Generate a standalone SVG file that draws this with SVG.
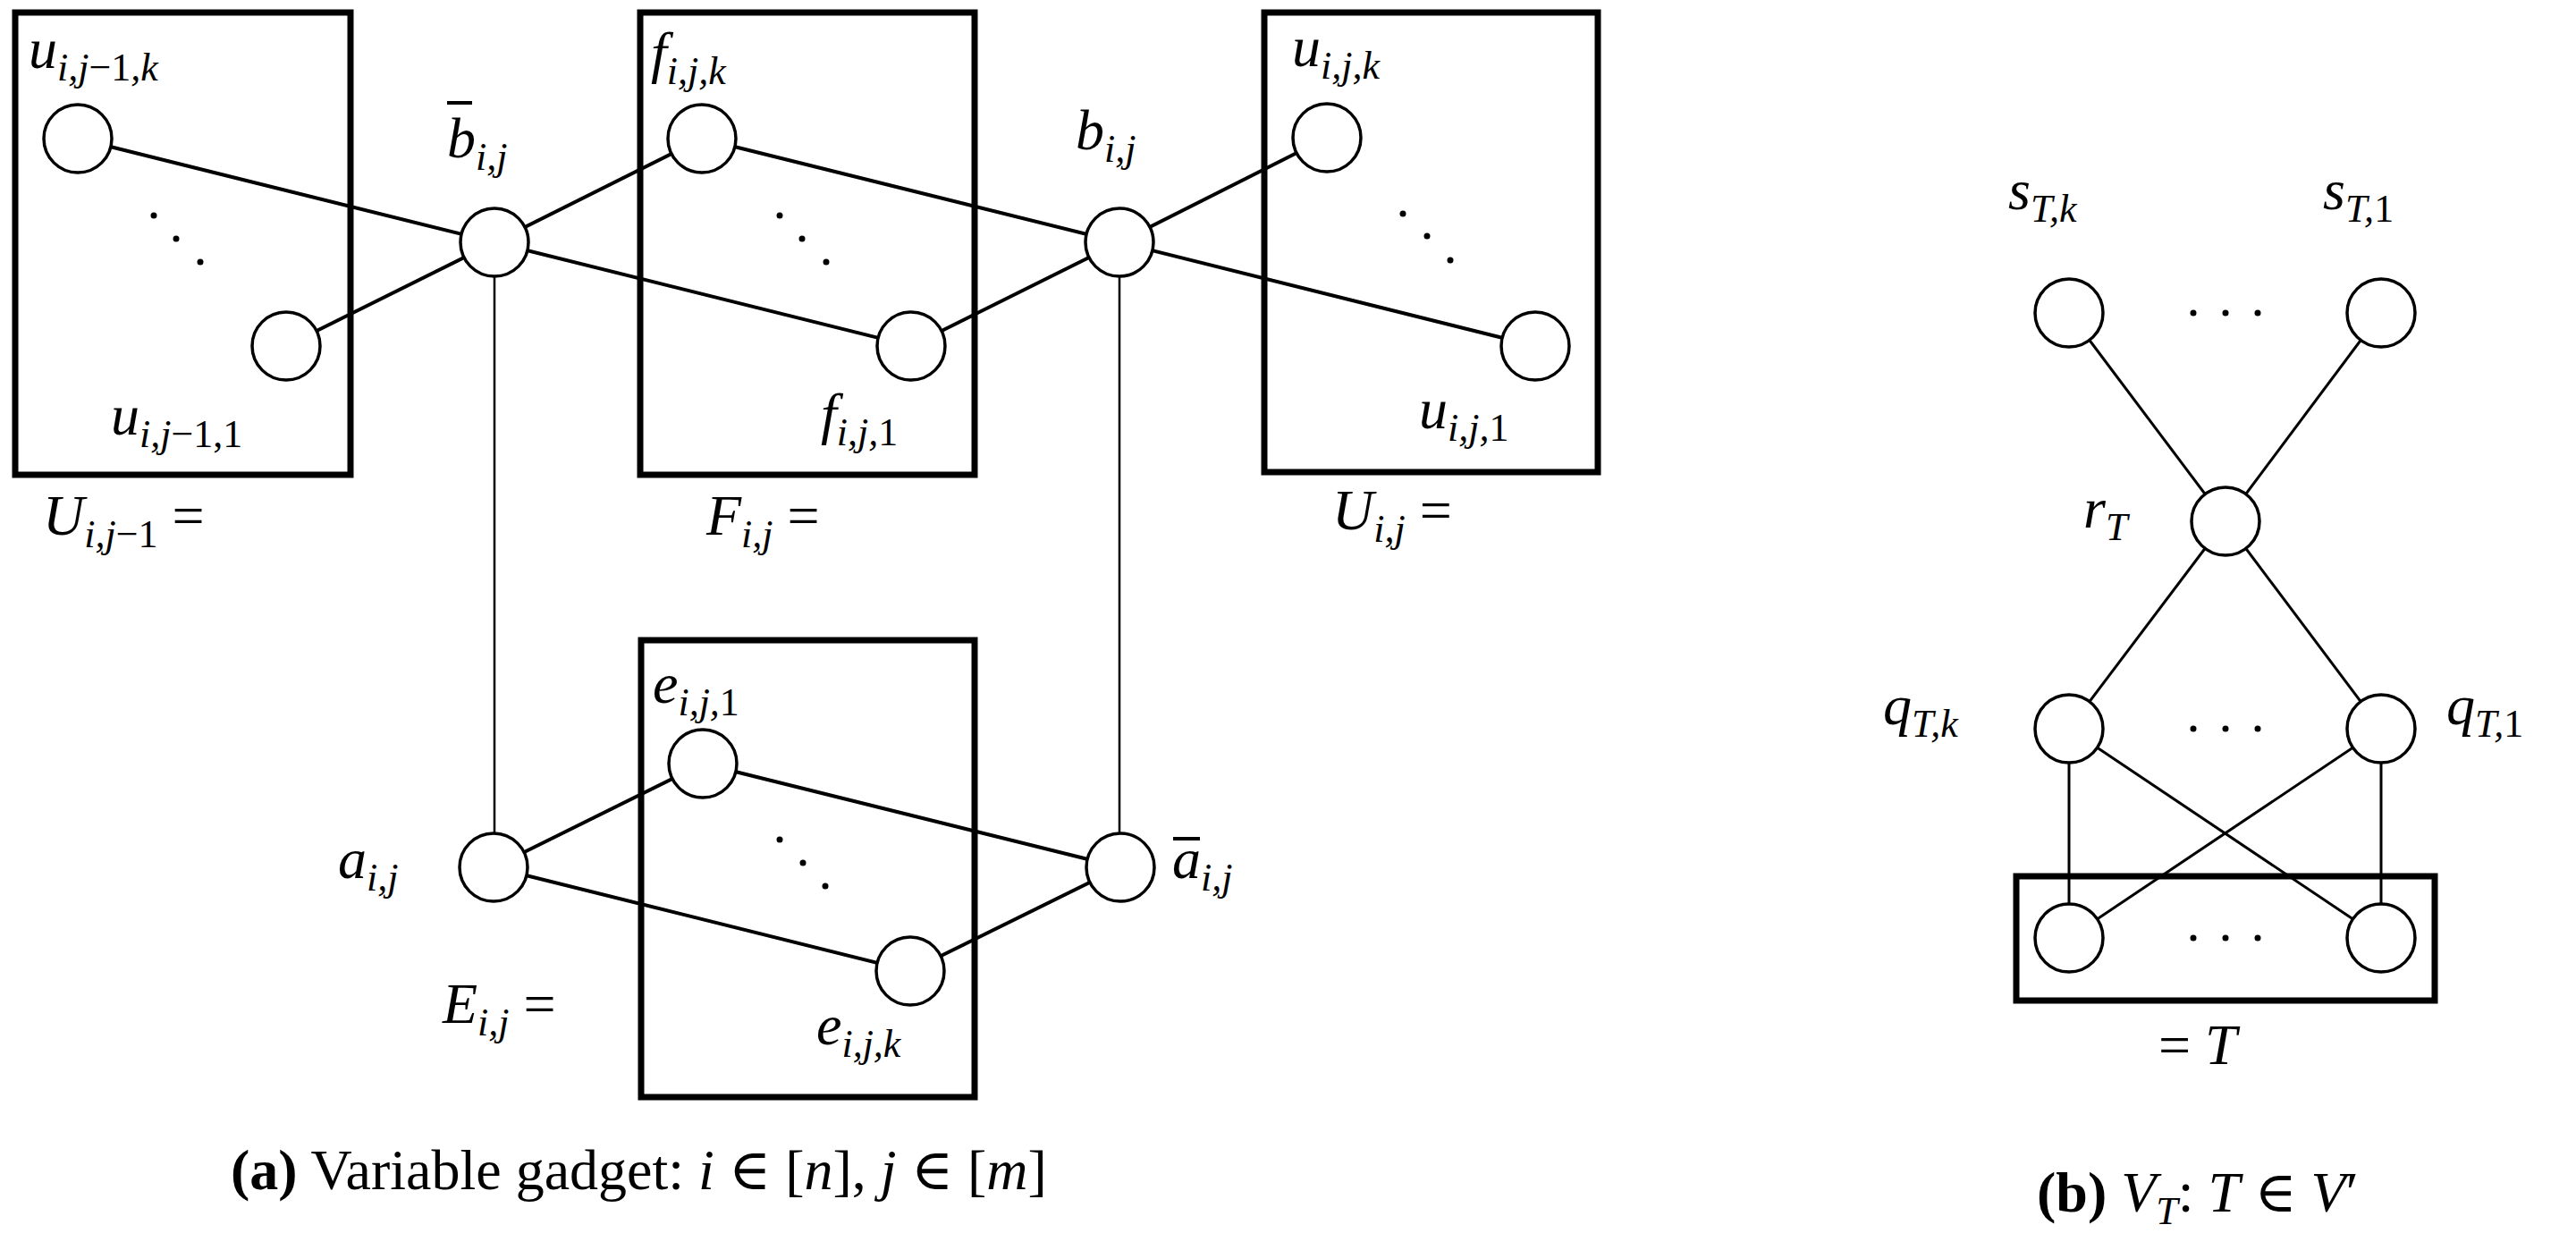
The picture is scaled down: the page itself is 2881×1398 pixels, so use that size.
<svg xmlns="http://www.w3.org/2000/svg" width="2881" height="1398" viewBox="0 0 2881 1398">
<style>
.box{fill:none;stroke:#000;stroke-width:7}
.n{fill:#fff;stroke:#000;stroke-width:3.5}
.e{stroke:#000;stroke-width:4;fill:none}
.v{stroke:#000;stroke-width:2.5;fill:none}
.eb{stroke:#000;stroke-width:3;fill:none}
text{font-family:"Liberation Serif","DejaVu Serif",serif;font-style:italic;font-size:64px;fill:#000}
.s{font-size:44px}
.up{font-style:normal}
.cap{font-style:normal;font-size:64px}
.dot{fill:#000}
</style>
<rect width="2881" height="1398" fill="#fff"/>
<g id="boxes">
<rect class="box" x="17" y="14" width="375" height="517"/>
<rect class="box" x="716" y="14" width="374" height="517"/>
<rect class="box" x="1414" y="14" width="373" height="514"/>
<rect class="box" x="717" y="716" width="373" height="511"/>
<rect class="box" x="2255" y="980" width="468" height="139"/>
</g>
<g id="connectors">
<line class="e" x1="87" y1="155" x2="553" y2="271"/>
<line class="e" x1="320" y1="387" x2="553" y2="271"/>
<line class="e" x1="553" y1="271" x2="785" y2="155"/>
<line class="e" x1="553" y1="271" x2="1019" y2="387"/>
<line class="e" x1="785" y1="155" x2="1252" y2="271"/>
<line class="e" x1="1019" y1="387" x2="1252" y2="271"/>
<line class="e" x1="1252" y1="271" x2="1484" y2="154"/>
<line class="e" x1="1252" y1="271" x2="1717" y2="387"/>
<line class="v" x1="553" y1="271" x2="553" y2="970"/>
<line class="v" x1="1252" y1="271" x2="1252" y2="970"/>
<line class="e" x1="552" y1="970" x2="786" y2="854"/>
<line class="e" x1="552" y1="970" x2="1018" y2="1086"/>
<line class="e" x1="786" y1="854" x2="1253" y2="970"/>
<line class="e" x1="1018" y1="1086" x2="1253" y2="970"/>
<line class="eb" x1="2314" y1="350" x2="2489" y2="583"/>
<line class="eb" x1="2663" y1="350" x2="2489" y2="583"/>
<line class="eb" x1="2489" y1="583" x2="2314" y2="815"/>
<line class="eb" x1="2489" y1="583" x2="2663" y2="815"/>
<line class="eb" x1="2314" y1="815" x2="2314" y2="1049"/>
<line class="eb" x1="2663" y1="815" x2="2663" y2="1049"/>
<line class="eb" x1="2314" y1="815" x2="2663" y2="1049"/>
<line class="eb" x1="2663" y1="815" x2="2314" y2="1049"/>
</g>
<g id="u_jm1_k"><circle class="n" cx="87" cy="155" r="38"/><text x="32" y="76">u<tspan class="s" dy="14">i,j</tspan><tspan class="s up">−1</tspan><tspan class="s">,k</tspan></text></g>
<g id="u_jm1_1"><circle class="n" cx="320" cy="387" r="38"/><text x="124" y="486">u<tspan class="s" dy="14">i,j</tspan><tspan class="s up">−1,1</tspan></text></g>
<g id="bbar"><circle class="n" cx="553" cy="271" r="38"/><text x="500" y="176">b<tspan class="s" dy="14">i,j</tspan></text><line x1="500" y1="115" x2="528" y2="115" stroke="#000" stroke-width="4"/></g>
<g id="f_k"><circle class="n" cx="785" cy="155" r="38"/><text x="728" y="80">f<tspan class="s" dy="14">i,j,k</tspan></text></g>
<g id="f_1"><circle class="n" cx="1019" cy="387" r="38"/><text x="918" y="484">f<tspan class="s" dy="14">i,j,</tspan><tspan class="s up">1</tspan></text></g>
<g id="b"><circle class="n" cx="1252" cy="271" r="38"/><text x="1203" y="167">b<tspan class="s" dy="14">i,j</tspan></text></g>
<g id="u_j_k"><circle class="n" cx="1484" cy="154" r="38"/><text x="1445" y="74">u<tspan class="s" dy="14">i,j,k</tspan></text></g>
<g id="u_j_1"><circle class="n" cx="1717" cy="387" r="38"/><text x="1587" y="479">u<tspan class="s" dy="14">i,j,</tspan><tspan class="s up">1</tspan></text></g>
<g id="a"><circle class="n" cx="552" cy="970" r="38"/><text x="378" y="982">a<tspan class="s" dy="14">i,j</tspan></text></g>
<g id="abar"><circle class="n" cx="1253" cy="970" r="38"/><text x="1311" y="982">a<tspan class="s" dy="14">i,j</tspan></text><line x1="1312" y1="938" x2="1342" y2="938" stroke="#000" stroke-width="4"/></g>
<g id="e_1"><circle class="n" cx="786" cy="854" r="38"/><text x="730" y="786">e<tspan class="s" dy="14">i,j,</tspan><tspan class="s up">1</tspan></text></g>
<g id="e_k"><circle class="n" cx="1018" cy="1086" r="38"/><text x="913" y="1168">e<tspan class="s" dy="14">i,j,k</tspan></text></g>
<g id="labels_a">
<text x="48" y="598">U<tspan class="s" dy="14">i,j</tspan><tspan class="s up">−1</tspan><tspan class="up" dy="-14"> =</tspan></text>
<text x="790" y="598">F<tspan class="s" dy="14">i,j</tspan><tspan class="up" dy="-14"> =</tspan></text>
<text x="1490" y="592">U<tspan class="s" dy="14">i,j</tspan><tspan class="up" dy="-14"> =</tspan></text>
<text x="495" y="1144">E<tspan class="s" dy="14">i,j</tspan><tspan class="up" dy="-14"> =</tspan></text>
<circle class="dot" cx="172" cy="241" r="3.5"/><circle class="dot" cx="197" cy="267" r="3.5"/><circle class="dot" cx="224" cy="293" r="3.5"/>
<circle class="dot" cx="872" cy="241" r="3.5"/><circle class="dot" cx="897" cy="267" r="3.5"/><circle class="dot" cx="924" cy="293" r="3.5"/>
<circle class="dot" cx="1569" cy="239" r="3.5"/><circle class="dot" cx="1596" cy="264" r="3.5"/><circle class="dot" cx="1622" cy="291" r="3.5"/>
<circle class="dot" cx="872" cy="939" r="3.5"/><circle class="dot" cx="898" cy="965" r="3.5"/><circle class="dot" cx="923" cy="991" r="3.5"/>
<text class="cap" x="258" y="1330"><tspan font-weight="bold">(a)</tspan> Variable gadget: <tspan font-style="italic">i</tspan> ∈ [<tspan font-style="italic">n</tspan>], <tspan font-style="italic">j</tspan> ∈ [<tspan font-style="italic">m</tspan>]</text>
</g>
<g id="s_k"><circle class="n" cx="2314" cy="350" r="38"/><text x="2246" y="234">s<tspan class="s" dy="14">T,k</tspan></text></g>
<g id="s_1"><circle class="n" cx="2663" cy="350" r="38"/><text x="2598" y="234">s<tspan class="s" dy="14">T,</tspan><tspan class="s up">1</tspan></text></g>
<g id="r"><circle class="n" cx="2489" cy="583" r="38"/><text x="2330" y="590">r<tspan class="s" dy="14">T</tspan></text></g>
<g id="q_k"><circle class="n" cx="2314" cy="815" r="38"/><text x="2106" y="810">q<tspan class="s" dy="14">T,k</tspan></text></g>
<g id="q_1"><circle class="n" cx="2663" cy="815" r="38"/><text x="2736" y="810">q<tspan class="s" dy="14">T,</tspan><tspan class="s up">1</tspan></text></g>
<g id="t_k"><circle class="n" cx="2314" cy="1049" r="38"/></g>
<g id="t_1"><circle class="n" cx="2663" cy="1049" r="38"/></g>
<g id="labels_b">
<circle class="dot" cx="2453" cy="350" r="3.5"/><circle class="dot" cx="2489" cy="350" r="3.5"/><circle class="dot" cx="2525" cy="350" r="3.5"/>
<circle class="dot" cx="2453" cy="815" r="3.5"/><circle class="dot" cx="2489" cy="815" r="3.5"/><circle class="dot" cx="2525" cy="815" r="3.5"/>
<circle class="dot" cx="2453" cy="1049" r="3.5"/><circle class="dot" cx="2489" cy="1049" r="3.5"/><circle class="dot" cx="2525" cy="1049" r="3.5"/>
<text x="2414" y="1190"><tspan class="up">= </tspan>T</text>
<text class="cap" x="2278" y="1355"><tspan font-weight="bold">(b)</tspan> <tspan font-style="italic">V<tspan class="s" dy="14">T</tspan></tspan><tspan dy="-14">: </tspan><tspan font-style="italic">T</tspan> ∈ <tspan font-style="italic">V</tspan>′</text>
</g>
</svg>
